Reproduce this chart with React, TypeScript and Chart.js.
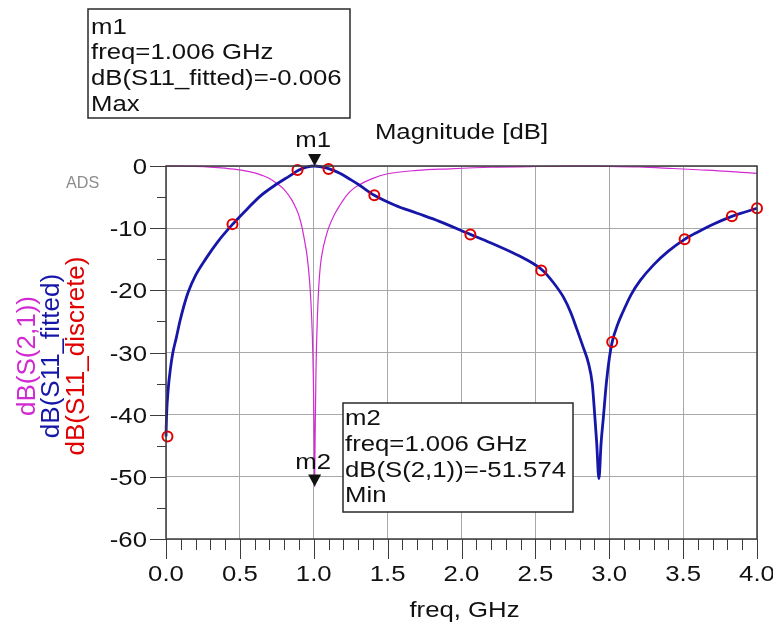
import React, { useEffect, useRef } from "react";
import { Chart, registerables } from "chart.js";

Chart.register(...registerables);

// ---- data ----
const s21Freq = [0.0, 0.1, 0.2, 0.3, 0.4, 0.5, 0.6, 0.65, 0.7, 0.75, 0.8, 0.85, 0.88, 0.9, 0.92, 0.94, 0.955, 0.97, 0.98, 0.99, 0.998, 1.003, 1.006, 1.009, 1.015, 1.025, 1.035, 1.045, 1.06, 1.08, 1.1, 1.14, 1.18, 1.22, 1.27, 1.31, 1.4, 1.5, 1.7, 1.92, 2.2, 2.5, 2.8, 3.0, 3.2, 3.43, 3.6, 3.8, 4.0];
const s21dB = [0, -0.02, -0.07, -0.17, -0.35, -0.62, -1.1, -1.5, -2.0, -2.8, -3.8, -5.4, -6.8, -8.0, -9.8, -12.3, -14.5, -18, -21.5, -27, -35, -44, -51.574, -44, -33, -24, -19, -16, -13.6, -11.6, -10.0, -7.8, -6.2, -4.8, -3.6, -3.0, -2.0, -1.25, -0.7, -0.45, -0.2, -0.08, -0.02, -0.05, -0.15, -0.4, -0.6, -0.85, -1.2];

const fittedFreq = [0.0, 0.004, 0.016, 0.03, 0.045, 0.07, 0.095, 0.12, 0.15, 0.2, 0.27, 0.35, 0.45, 0.55, 0.64, 0.75, 0.83, 0.9, 0.95, 1.006, 1.05, 1.11, 1.18, 1.25, 1.31, 1.41, 1.55, 1.7, 1.85, 2.06, 2.2, 2.35, 2.45, 2.55, 2.62, 2.69, 2.74, 2.78, 2.82, 2.86, 2.885, 2.9, 2.915, 2.93, 2.945, 2.96, 2.98, 3.0, 3.02, 3.06, 3.09, 3.15, 3.21, 3.3, 3.4, 3.51, 3.6, 3.7, 3.83, 3.92, 4.0];
const fitteddB = [-43.5, -40, -35.6, -32.6, -30.2, -27.6, -24.9, -22.6, -20.3, -17.6, -14.9, -12.2, -9.4, -6.9, -4.8, -2.9, -1.7, -0.65, -0.2, 0, -0.15, -0.5, -1.2, -2.2, -3.1, -4.7, -6.3, -7.6, -8.9, -11.0, -12.4, -14.0, -15.2, -16.8, -18.7, -21.1, -23.6, -26.2, -28.9, -31.8, -35, -39.5, -44.5, -50.3, -44.5, -40.5, -35, -31, -28.3, -25.3, -23.6, -20.6, -18.4, -15.9, -13.7, -11.8, -10.6, -9.4, -8.1, -7.4, -6.8];

const discreteFreq = [0.01, 0.45, 0.89, 1.1, 1.41, 2.06, 2.54, 3.02, 3.51, 3.83, 4.0];
const discretedB = [-43.5, -9.35, -0.65, -0.5, -4.7, -11, -16.8, -28.3, -11.8, -8.1, -6.8];

const xTickValues = [0, 0.5, 1, 1.5, 2, 2.5, 3, 3.5, 4];
const xTickLabels = ["0.0", "0.5", "1.0", "1.5", "2.0", "2.5", "3.0", "3.5", "4.0"];
const yTickValues = [0, -10, -20, -30, -40, -50, -60];
const yTickLabels = ["0", "-10", "-20", "-30", "-40", "-50", "-60"];

const legendLabels = ["dB(S(2,1))", "dB(S11_fitted)", "dB(S11_discrete)"];
const chartTitle = "Magnitude [dB]";
const xTitle = "freq, GHz";

const m1Freq = 1.006;
const m1Value = -0.006;
const m1Lines = ["m1", "freq=1.006 GHz", "dB(S11_fitted)=-0.006", "Max"];
const m2Freq = 1.006;
const m2Value = -51.574;
const m2Lines = ["m2", "freq=1.006 GHz", "dB(S(2,1))=-51.574", "Min"];

const COL_S21 = "#d22ad2";
const COL_FIT = "#1616a8";
const COL_DISC = "#e00000";
const FONT = '"Liberation Sans", Arial, sans-serif';
const SX = 1.17;

function txt(
  ctx: CanvasRenderingContext2D,
  s: string,
  x: number,
  y: number,
  size: number,
  color: string,
  align: CanvasTextAlign,
  baseline: CanvasTextBaseline,
  sx = SX,
  rot = 0
) {
  ctx.save();
  ctx.translate(x, y);
  if (rot) ctx.rotate(rot);
  ctx.scale(sx, 1);
  ctx.font = `${size}px ${FONT}`;
  ctx.fillStyle = color;
  ctx.textAlign = align;
  ctx.textBaseline = baseline;
  ctx.fillText(s, 0, 0);
  ctx.restore();
}

const decorPlugin = {
  id: "adsDecor",
  afterDatasetsDraw(chart: any) {
    const ctx: CanvasRenderingContext2D = chart.ctx;
    const xs = chart.scales.x;
    const ys = chart.scales.y;
    const { left, right, top, bottom } = chart.chartArea;

    ctx.save();
    // plot border
    ctx.strokeStyle = "#3c3c3c";
    ctx.lineWidth = 1.5;
    ctx.strokeRect(left, top, right - left, bottom - top);

    // ticks
    ctx.strokeStyle = "#3c3c3c";
    ctx.lineWidth = 1;
    for (let i = 0; i <= 40; i++) {
      const v = i / 10;
      const px = Math.round(xs.getPixelForValue(v)) + 0.5;
      const len = i % 5 === 0 ? 20 : 11;
      ctx.beginPath();
      ctx.moveTo(px, bottom);
      ctx.lineTo(px, bottom + len);
      ctx.stroke();
    }
    for (let i = 0; i <= 12; i++) {
      const v = -i * 5;
      const py = Math.round(ys.getPixelForValue(v)) + 0.5;
      const len = i % 2 === 0 ? 16 : 9;
      ctx.beginPath();
      ctx.moveTo(left - len, py);
      ctx.lineTo(left, py);
      ctx.stroke();
    }

    // tick labels
    xTickValues.forEach((v, i) => {
      txt(ctx, xTickLabels[i], xs.getPixelForValue(v), 581, 22, "#111", "center", "alphabetic");
    });
    yTickValues.forEach((v, i) => {
      txt(ctx, yTickLabels[i], 147, ys.getPixelForValue(v) + 8, 22, "#111", "right", "alphabetic");
    });

    // titles
    const cx = (left + right) / 2;
    txt(ctx, chartTitle, cx, 139, 22, "#111", "center", "alphabetic");
    txt(ctx, xTitle, cx + 3, 617, 22, "#111", "center", "alphabetic");

    // rotated legend
    const legendX = [28, 52, 77];
    const legendCol = [COL_S21, COL_FIT, COL_DISC];
    legendLabels.forEach((l, i) => {
      txt(ctx, l, legendX[i], 356, 26, legendCol[i], "center", "middle", 1, -Math.PI / 2);
    });

    // ADS label
    txt(ctx, "ADS", 66, 188, 17, "#8c8c8c", "left", "alphabetic", 0.95);

    // markers
    const tri = (x: number, y: number) => {
      ctx.fillStyle = "#111";
      ctx.beginPath();
      ctx.moveTo(x, y);
      ctx.lineTo(x - 6.5, y - 12);
      ctx.lineTo(x + 6.5, y - 12);
      ctx.closePath();
      ctx.fill();
    };
    const m1x = xs.getPixelForValue(m1Freq);
    const m1y = ys.getPixelForValue(m1Value);
    tri(m1x, m1y);
    txt(ctx, "m1", m1x - 1.5, m1y - 19, 22, "#111", "center", "alphabetic");
    const m2x = xs.getPixelForValue(m2Freq);
    const m2y = ys.getPixelForValue(m2Value);
    tri(m2x, m2y);
    txt(ctx, "m2", m2x - 1.5, m2y - 18, 22, "#111", "center", "alphabetic");

    // marker boxes
    const box = (x0: number, y0: number, x1: number, y1: number, lines: string[], tx: number, by: number) => {
      ctx.fillStyle = "#ffffff";
      ctx.fillRect(x0, y0, x1 - x0, y1 - y0);
      ctx.strokeStyle = "#2a2a2a";
      ctx.lineWidth = 1.5;
      ctx.strokeRect(x0, y0, x1 - x0, y1 - y0);
      lines.forEach((l, i) => {
        txt(ctx, l, tx, by + i * 25.8, 22, "#111", "left", "alphabetic");
      });
    };
    box(88, 9, 350, 118, m1Lines, 91, 33.5);
    box(343, 403, 573, 512, m2Lines, 345, 425);

    ctx.restore();
  },
};

export default function App() {
  const ref = useRef<HTMLCanvasElement | null>(null);
  useEffect(() => {
    document.body.style.margin = "0";
    const canvas = ref.current;
    if (!canvas) return;
    const zip = (xs: number[], ys: number[]) => xs.map((x, i) => ({ x, y: ys[i] }));
    const chart = new Chart(canvas, {
      type: "scatter",
      data: {
        datasets: [
          {
            label: legendLabels[2],
            data: zip(discreteFreq, discretedB),
            showLine: false,
            pointStyle: "circle",
            pointRadius: 5,
            pointBorderWidth: 2,
            pointBorderColor: COL_DISC,
            pointBackgroundColor: "rgba(0,0,0,0)",
            borderColor: COL_DISC,
            order: 0,
            clip: false,
          },
          {
            label: legendLabels[1],
            data: zip(fittedFreq, fitteddB),
            showLine: true,
            borderColor: COL_FIT,
            borderWidth: 2.8,
            pointRadius: 0,
            cubicInterpolationMode: "monotone",
            order: 1,
            clip: false,
          },
          {
            label: legendLabels[0],
            data: zip(s21Freq, s21dB),
            showLine: true,
            borderColor: COL_S21,
            borderWidth: 1.2,
            pointRadius: 0,
            cubicInterpolationMode: "monotone",
            order: 2,
            clip: false,
          },
        ],
      },
      options: {
        animation: false,
        responsive: false,
        events: [],
        layout: { padding: { left: 166, top: 166, right: 16, bottom: 93 } },
        plugins: { legend: { display: false }, tooltip: { enabled: false }, title: { display: false } },
        scales: {
          x: {
            type: "linear",
            min: 0,
            max: 4,
            ticks: { display: false, stepSize: 0.5 },
            grid: { color: "#a8a8a8", lineWidth: 1, drawTicks: false },
            border: { display: false },
            afterFit: (s: any) => {
              s.height = 0;
            },
          },
          y: {
            type: "linear",
            min: -60,
            max: 0,
            ticks: { display: false, stepSize: 10 },
            grid: { color: "#a8a8a8", lineWidth: 1, drawTicks: false },
            border: { display: false },
            afterFit: (s: any) => {
              s.width = 0;
            },
          },
        },
      },
      plugins: [decorPlugin],
    });
    return () => chart.destroy();
  }, []);
  return <canvas ref={ref} width={773} height={632} style={{ display: "block" }} />;
}
